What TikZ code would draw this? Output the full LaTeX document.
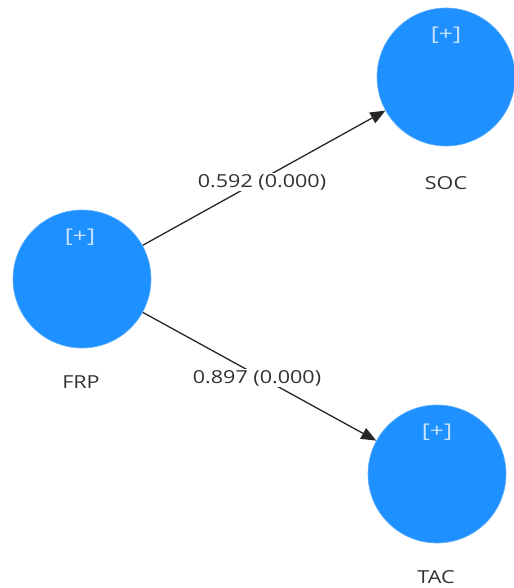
\documentclass[tikz,border=0pt]{standalone}
\usepackage{fontspec}
\setmainfont{Open Sans}
\usetikzlibrary{arrows.meta}
\definecolor{lvblue}{RGB}{30,144,255}
\definecolor{plus}{RGB}{200,228,255}
\definecolor{txt}{RGB}{50,50,50}
\newcommand{\widetxt}[1]{\scalebox{1.2}[1]{#1}}
\begin{document}
\begin{tikzpicture}[x=1bp,y=-1bp,
  lv/.style={circle,fill=lvblue,draw=lvblue!70!white,line width=0.6bp,minimum size=138bp,inner sep=0pt},
  pl/.style={text=plus,font=\fontsize{19}{22}\selectfont},
  nm/.style={text=txt,font=\fontsize{18}{21}\selectfont},
  coef/.style={text=txt,fill=white,inner sep=1.5bp,font=\fontsize{18}{21}\selectfont},
  path/.style={draw=black!85,line width=1.3bp,-{Triangle[length=15bp,width=12bp]}}]
\useasboundingbox (0,0) rectangle (514,588);
\node[lv] (FRP) at (82,279) {};
\node[lv] (SOC) at (446,77) {};
\node[lv] (TAC) at (437,474) {};
\node[pl] (FRPp) at (80,237) {\scalebox{1.3}[1]{[+]}};
\node[pl] (SOCp) at (446,35) {\scalebox{1.3}[1]{[+]}};
\node[pl] (TACp) at (437,432) {\scalebox{1.3}[1]{[+]}};
\node[nm] (FRPn) at (81,382) {\widetxt{FRP}};
\node[nm] (SOCn) at (446,183) {\widetxt{SOC}};
\node[nm] (TACn) at (436,577) {\widetxt{TAC}};
\draw[path] (FRP) -- (SOC);
\draw[path] (FRP) -- (TAC);
\node[coef] (c1) at (262,182) {\widetxt{0.592 (0.000)}};
\node[coef] (c2) at (257,378) {\widetxt{0.897 (0.000)}};
\end{tikzpicture}
\end{document}
